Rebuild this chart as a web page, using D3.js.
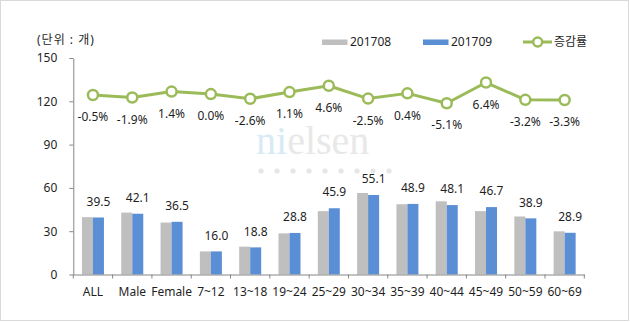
<!DOCTYPE html>
<html>
<head>
<meta charset="utf-8">
<script src="https://cdn.jsdelivr.net/npm/d3@7"></script>
<style>
html,body{margin:0;padding:0;background:#fff;}
svg{display:block;}
text{font-family:"Noto Sans","Noto Sans CJK KR",sans-serif;fill:#1f1f1f;}
</style>
</head>
<body>
<svg id="chart" width="630" height="322"></svg>
<script>
const categories = ["ALL","Male","Female","7~12","13~18","19~24","25~29","30~34","35~39","40~44","45~49","50~59","60~69"];
const series = ["201708","201709"];
const values201708 = [39.7,42.9,36.0,16.0,19.3,28.5,43.9,56.5,48.7,50.7,43.9,40.2,29.9];
const values201709 = [39.5,42.1,36.5,16.0,18.8,28.8,45.9,55.1,48.9,48.1,46.7,38.9,28.9];
const rateLabel = "증감률";
const rates = [-0.5,-1.9,1.4,0.0,-2.6,1.1,4.6,-2.5,0.4,-5.1,6.4,-3.2,-3.3];
const yTicks = [0,30,60,90,120,150];
const unitLabel = "(단위 : 개)";

const colors = {"201708":"#bfbfbf","201709":"#5a8fd5"};
const lineColor = "#9bbb59";
const axisColor = "#868686";
const fs = 12;

const svg = d3.select("#chart");

// frame
svg.append("rect").attr("x",0.5).attr("y",0.5).attr("width",628).attr("height",320)
  .attr("fill","#fff").attr("stroke","#d9d9d9");

// watermark
const wm = svg.append("g");
d3.range(9).forEach(i=>{
  wm.append("circle").attr("cx",261+i*16).attr("cy",171).attr("r",2.6).attr("fill","#e6e6e6");
});
const wt = wm.append("text").attr("x",256).attr("y",154)
  .style("font-family","'Liberation Serif','DejaVu Serif',serif").style("font-size","40px");
wt.append("tspan").text("ni").style("fill","#d8ebf4");
wt.append("tspan").text("elsen").style("fill","#e8e8e8");

const x = d3.scaleBand().domain(categories).range([73.3,584.3]).padding(0);
const barW = 11;
const xs = d3.scaleBand().domain(series).range([-barW, barW]);
const y = d3.scaleLinear().domain([0,150]).range([274.5,58]);
const y2 = d3.scaleLinear().domain([-100,20]).range([274.5,58]);

// y axis
const ya = svg.append("g").attr("transform","translate(73.3,0)")
  .call(d3.axisLeft(y).tickValues(yTicks).tickSize(4).tickSizeOuter(0).tickPadding(12));
ya.select(".domain").attr("stroke",axisColor);
ya.selectAll(".tick line").attr("stroke",axisColor);
ya.selectAll(".tick text").style("font-size",fs+"px").style("fill","#1f1f1f").attr("font-family",null);

// bars
const data = categories.map((c,i)=>({c, v:{"201708":values201708[i],"201709":values201709[i]}, r:rates[i]}));
series.forEach(s=>{
  svg.append("g").selectAll("rect").data(data).join("rect")
    .attr("x",d=>x(d.c)+x.bandwidth()/2+xs(s))
    .attr("width",xs.bandwidth())
    .attr("y",d=>y(d.v[s]))
    .attr("height",d=>y(0)-y(d.v[s]))
    .attr("fill",colors[s]);
});

// x axis
const xa = svg.append("g").attr("transform",`translate(0,${y(0)})`)
  .call(d3.axisBottom(x).tickSize(0).tickSizeOuter(0).tickPadding(13));
xa.select(".domain").attr("stroke",axisColor);
xa.selectAll(".tick text").style("font-size",fs+"px").style("fill","#1f1f1f").attr("font-family",null);
const bounds = categories.map(c=>x(c)).concat([x.range()[1]]);
xa.selectAll("line.b").data(bounds).join("line").attr("class","b")
  .attr("x1",d=>d).attr("x2",d=>d).attr("y1",0).attr("y2",4).attr("stroke",axisColor);

// bar labels (201709)
svg.append("g").selectAll("text").data(data).join("text")
  .attr("x",d=>x(d.c)+x.bandwidth()/2+xs("201709")+xs.bandwidth()/2)
  .attr("y",d=>y(d.v["201709"])-16)
  .attr("dy","0.35em").attr("text-anchor","middle").style("font-size",fs+"px")
  .text(d=>d.v["201709"].toFixed(1));

// line
const line = d3.line().x(d=>x(d.c)+x.bandwidth()/2).y(d=>y2(d.r));
svg.append("path").datum(data).attr("d",line).attr("fill","none")
  .attr("stroke",lineColor).attr("stroke-width",3).attr("stroke-linejoin","round");
svg.append("g").selectAll("circle").data(data).join("circle")
  .attr("cx",d=>x(d.c)+x.bandwidth()/2).attr("cy",d=>y2(d.r)).attr("r",5)
  .attr("fill","#fff").attr("stroke",lineColor).attr("stroke-width",2.5);
svg.append("g").selectAll("text").data(data).join("text")
  .attr("x",d=>x(d.c)+x.bandwidth()/2).attr("y",d=>y2(d.r)+22)
  .attr("dy","0.35em").attr("text-anchor","middle").style("font-size",fs+"px")
  .text(d=>d.r.toFixed(1)+"%");

// unit label
svg.append("text").attr("x",37).attr("y",40).attr("dy","0.35em").style("font-size",fs+"px")
  .style("letter-spacing","1px").text(unitLabel);

// legend
const lg = svg.append("g");
const legItems = [{k:"201708",x:322},{k:"201709",x:423}];
legItems.forEach(it=>{
  lg.append("rect").attr("x",it.x).attr("y",39.5).attr("width",25.5).attr("height",5.5).attr("fill",colors[it.k]);
  lg.append("text").attr("x",it.x+28).attr("y",42).attr("dy","0.35em").style("font-size",fs+"px").text(it.k);
});
lg.append("line").attr("x1",523).attr("x2",552).attr("y1",42).attr("y2",42).attr("stroke",lineColor).attr("stroke-width",3);
lg.append("circle").attr("cx",537.7).attr("cy",42).attr("r",4.5).attr("fill","#fff").attr("stroke",lineColor).attr("stroke-width",2.5);
lg.append("text").attr("x",554).attr("y",42).attr("dy","0.35em").style("font-size",fs+"px").text(rateLabel);
</script>
</body>
</html>
